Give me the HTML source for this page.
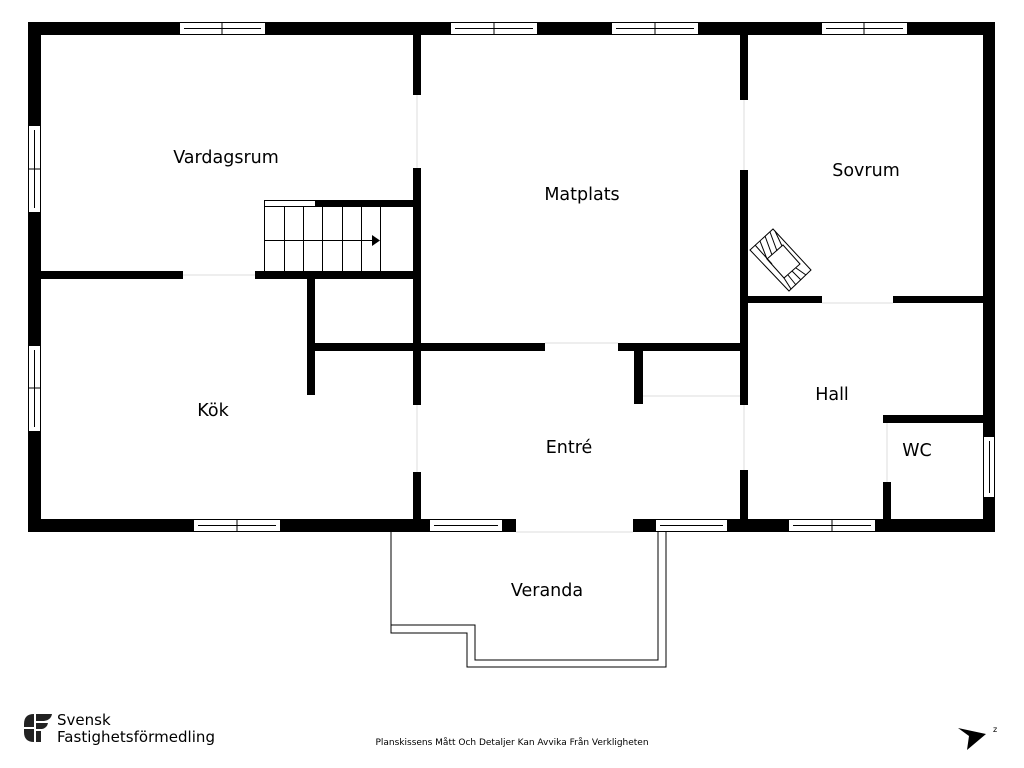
<!DOCTYPE html>
<html><head><meta charset="utf-8"><style>
html,body{margin:0;padding:0;background:#fff;width:1024px;height:768px;overflow:hidden}
svg{display:block}
text{font-family:"DejaVu Sans","Liberation Sans",sans-serif;fill:#000}
</style></head><body>
<svg width="1024" height="768" viewBox="0 0 1024 768" xmlns="http://www.w3.org/2000/svg">
<g fill="#000">
<rect x="28" y="22" width="967" height="13"/>
<rect x="28" y="22" width="13" height="510"/>
<rect x="983" y="22" width="12" height="510"/>
<rect x="28" y="519" width="488" height="13"/>
<rect x="633" y="519" width="362" height="13"/>
<rect x="413" y="35" width="8" height="60"/>
<rect x="413" y="168" width="8" height="237"/>
<rect x="413" y="472" width="8" height="50"/>
<rect x="41" y="271" width="142" height="8"/>
<rect x="255" y="271" width="166" height="8"/>
<rect x="315" y="200" width="106" height="7"/>
<rect x="307" y="279" width="8" height="116"/>
<rect x="315" y="343" width="230" height="8"/>
<rect x="618" y="343" width="130" height="8"/>
<rect x="634" y="343" width="9" height="61"/>
<rect x="740" y="35" width="8" height="65"/>
<rect x="740" y="170" width="8" height="235"/>
<rect x="740" y="470" width="8" height="52"/>
<rect x="748" y="296" width="74" height="7"/>
<rect x="893" y="296" width="90" height="7"/>
<rect x="883" y="415" width="100" height="8"/>
<rect x="883" y="482" width="8" height="40"/>
</g>
<g stroke="#ddd" stroke-width="1" fill="none">
<line x1="417" y1="95" x2="417" y2="168"/>
<line x1="417" y1="405" x2="417" y2="472"/>
<line x1="744" y1="100" x2="744" y2="170"/>
<line x1="744" y1="405" x2="744" y2="470"/>
<line x1="183" y1="275" x2="255" y2="275"/>
<line x1="545" y1="343" x2="618" y2="343"/>
<line x1="822" y1="303" x2="893" y2="303"/>
<line x1="887" y1="423" x2="887" y2="482"/>
<line x1="643" y1="396" x2="740" y2="396"/>
<line x1="516" y1="532" x2="633" y2="532"/>
</g>
<g fill="#fff" stroke="#000" stroke-width="1">
<rect x="179.5" y="22.5" width="86" height="12"/><line x1="222" y1="22" x2="222" y2="35"/><line x1="184" y1="28.5" x2="261" y2="28.5"/>
<rect x="450.5" y="22.5" width="87" height="12"/><line x1="494" y1="22" x2="494" y2="35"/><line x1="455" y1="28.5" x2="533" y2="28.5"/>
<rect x="611.5" y="22.5" width="87" height="12"/><line x1="655" y1="22" x2="655" y2="35"/><line x1="616" y1="28.5" x2="694" y2="28.5"/>
<rect x="821.5" y="22.5" width="86" height="12"/><line x1="864" y1="22" x2="864" y2="35"/><line x1="826" y1="28.5" x2="903" y2="28.5"/>
<rect x="28.5" y="125.5" width="12" height="87"/><line x1="28" y1="169" x2="41" y2="169"/><line x1="34.5" y1="130" x2="34.5" y2="208"/>
<rect x="28.5" y="345.5" width="12" height="86"/><line x1="28" y1="388" x2="41" y2="388"/><line x1="34.5" y1="350" x2="34.5" y2="427"/>
<rect x="193.5" y="519.5" width="87" height="12"/><line x1="237" y1="519" x2="237" y2="532"/><line x1="198" y1="525.5" x2="276" y2="525.5"/>
<rect x="429.5" y="519.5" width="73" height="12"/><line x1="434" y1="525.5" x2="498" y2="525.5"/>
<rect x="655.5" y="519.5" width="72" height="12"/><line x1="660" y1="525.5" x2="723" y2="525.5"/>
<rect x="788.5" y="519.5" width="87" height="12"/><line x1="832" y1="519" x2="832" y2="532"/><line x1="793" y1="525.5" x2="871" y2="525.5"/>
<rect x="983.5" y="436.5" width="11" height="61"/><line x1="989.5" y1="441" x2="989.5" y2="493"/>
<rect x="264.5" y="200.5" width="51" height="6"/>
</g>
<g stroke="#000" stroke-width="1" fill="none">
<line x1="264.5" y1="207" x2="264.5" y2="271"/>
<line x1="284.5" y1="207" x2="284.5" y2="271"/>
<line x1="303.5" y1="207" x2="303.5" y2="271"/>
<line x1="322.5" y1="207" x2="322.5" y2="271"/>
<line x1="342.5" y1="207" x2="342.5" y2="271"/>
<line x1="361.5" y1="207" x2="361.5" y2="271"/>
<line x1="380.5" y1="207" x2="380.5" y2="271"/>
<line x1="264" y1="240.5" x2="374" y2="240.5"/>
</g>
<polygon points="372,235 380,240.5 372,246" fill="#000"/>
<g stroke="#000" stroke-width="1" fill="none">
<polygon points="750,250 773,229 811,270 789,291"/>
<polygon points="767,259 783,245 800,264 784,278"/>
<line x1="755" y1="245" x2="772" y2="264"/>
<line x1="760" y1="241" x2="767" y2="259"/>
<line x1="765" y1="236" x2="772" y2="255"/>
<line x1="770" y1="232" x2="777" y2="251"/>
<line x1="775" y1="231" x2="782" y2="246"/>
<line x1="784" y1="278" x2="791" y2="289"/>
<line x1="788" y1="275" x2="796" y2="285"/>
<line x1="792" y1="271" x2="801" y2="280"/>
<line x1="796" y1="268" x2="806" y2="275"/>
</g>
<g stroke="#000" stroke-width="1" fill="none">
<polyline points="391,532 391,633 467,633 467,667 666,667 666,532"/>
<polyline points="391,625 475,625 475,660 658,660 658,532"/>
</g>
<g font-size="17.5">
<text x="226" y="163" text-anchor="middle">Vardagsrum</text>
<text x="582" y="200" text-anchor="middle">Matplats</text>
<text x="866" y="176" text-anchor="middle">Sovrum</text>
<text x="213" y="416" text-anchor="middle">Kök</text>
<text x="569" y="453" text-anchor="middle">Entré</text>
<text x="832" y="400" text-anchor="middle">Hall</text>
<text x="917" y="456" text-anchor="middle">WC</text>
<text x="547" y="596" text-anchor="middle">Veranda</text>
</g>
<text x="512" y="745" font-size="9" text-anchor="middle" font-family="Liberation Sans Narrow, Liberation Sans, sans-serif">Planskissens Mått Och Detaljer Kan Avvika Från Verkligheten</text>
<g fill="#222">
<path d="M24,724 Q24,714 34,714 L34,727 L24,727 Z"/>
<path d="M24,729 L34,729 L34,742 Q24,742 24,732 Z"/>
<path d="M36,714 L52,714 Q51,720 44,721 L36,721 Z"/>
<path d="M36,723 L48,723 Q47,728 42,729 L36,729 Z"/>
<path d="M36,731 L41,731 L41,742 L36,742 Z"/>
</g>
<text x="57" y="725" font-size="15" fill="#222" font-family="Liberation Sans, sans-serif">Svensk</text>
<text x="57" y="742" font-size="15" fill="#222" font-family="Liberation Sans, sans-serif" textLength="158">Fastighetsförmedling</text>
<polygon points="958,728 986,734 967,750 969,736" fill="#000"/>
<text x="993" y="732" font-size="8">z</text>
</svg>
</body></html>
